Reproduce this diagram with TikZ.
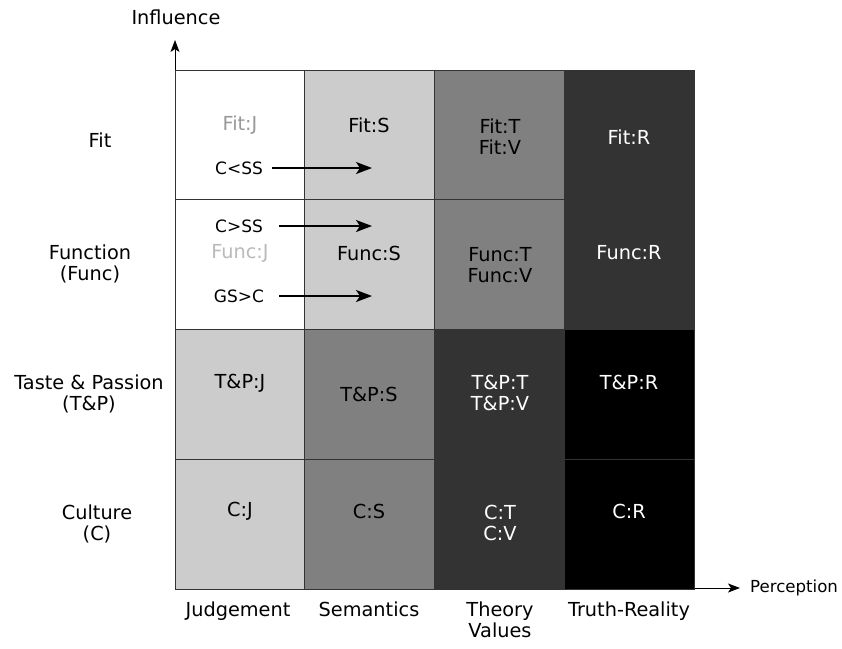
\documentclass[tikz,border=0pt]{standalone}
\usepackage{fontspec}
\setmainfont{DejaVu Sans}
\usetikzlibrary{arrows.meta}
\definecolor{lg}{HTML}{CCCCCC}
\definecolor{mg}{HTML}{808080}
\definecolor{dg}{HTML}{333333}
\begin{document}
\begin{tikzpicture}[x=1pt,y=-1pt,
  cell/.style={draw=black!80,line width=0.8pt},
  lbl/.style={font=\fontsize{19.3}{21}\selectfont,align=center,inner sep=0pt},
  rel/.style={font=\fontsize{17}{20}\selectfont,inner sep=0pt},
  arr/.style={-{Stealth[length=16pt,width=12pt,inset=4pt]},line width=2pt},
  axis/.style={-{Stealth[length=12pt,width=9pt,inset=3pt]},line width=0.9pt}]
\useasboundingbox (0,0) rectangle (842,648);
% cells
\foreach \x/\y/\c in {175/70/white,304/70/lg,434/70/mg,564/70/dg,
                      175/199/white,304/199/lg,434/199/mg,564/199/dg,
                      175/329/lg,304/329/mg,434/329/dg,564/329/black,
                      175/459/lg,304/459/mg,434/459/dg,564/459/black}{
  \pgfmathsetmacro{\xx}{\x+130}
  \pgfmathsetmacro{\yy}{\y+130}
  \filldraw[cell,fill=\c] (\x,\y) rectangle (\xx,\yy);
}
% axes
\coordinate (ytop) at (175,40);
\coordinate (xend) at (740,588);
\draw[axis] (175,70) -- (ytop);
\draw[axis] (695,588) -- (xend);
\node[lbl] (infl) at (176,17) {Influence};
\node[lbl,anchor=west,font=\fontsize{16.6}{20}\selectfont] (perc) at (750,588) {Perception};
% row labels
\node[lbl] (rfit) at (100,140) {Fit};
\node[lbl] (rfunc) at (90,264) {Function\\(Func)};
\node[lbl] (rtp) at (89,394) {Taste \& Passion\\(T\&P)};
\node[lbl] (rc) at (97,524) {Culture\\(C)};
% column labels
\node[lbl,anchor=north] (cj) at (238,602) {Judgement};
\node[lbl,anchor=north] (cs) at (369,602) {Semantics};
\node[lbl,anchor=north] (ct) at (500,602) {Theory\\Values};
\node[lbl,anchor=north] (cr) at (629,602) {Truth-Reality};
% cell texts
\node[lbl,text=black!40] (fitj) at (240,125) {Fit:J};
\node[lbl] (fits) at (369,125) {Fit:S};
\node[lbl] (fitt) at (500,137) {Fit:T\\Fit:V};
\node[lbl,text=white] (fitr) at (629,137) {Fit:R};
\node[lbl,text=black!27] (funcj) at (240,253) {Func:J};
\node[lbl] (funcs) at (369,253) {Func:S};
\node[lbl] (funct) at (500,265) {Func:T\\Func:V};
\node[lbl,text=white] (funcr) at (629,253) {Func:R};
\node[lbl] (tpj) at (240,383) {T\&P:J};
\node[lbl] (tps) at (369,394) {T\&P:S};
\node[lbl,text=white] (tpt) at (500,393) {T\&P:T\\T\&P:V};
\node[lbl,text=white] (tpr) at (629,382) {T\&P:R};
\node[lbl] (cjj) at (240,511) {C:J};
\node[lbl] (css) at (369,511) {C:S};
\node[lbl,text=white] (ctt) at (500,523) {C:T\\C:V};
\node[lbl,text=white] (crr) at (629,511) {C:R};
% arrows
\node[rel] (css1) at (239,168) {C<SS};
\node[rel] (cgs) at (239,226) {C>SS};
\node[rel] (gsc) at (239,296) {GS>C};
\coordinate (s1) at (272,168);
\coordinate (s2) at (279,226);
\coordinate (s3) at (279,296);
\coordinate (e1) at (372,168);
\coordinate (e2) at (372,226);
\coordinate (e3) at (372,296);
\draw[arr] (s1) -- (e1);
\draw[arr] (s2) -- (e2);
\draw[arr] (s3) -- (e3);
\end{tikzpicture}
\end{document}
